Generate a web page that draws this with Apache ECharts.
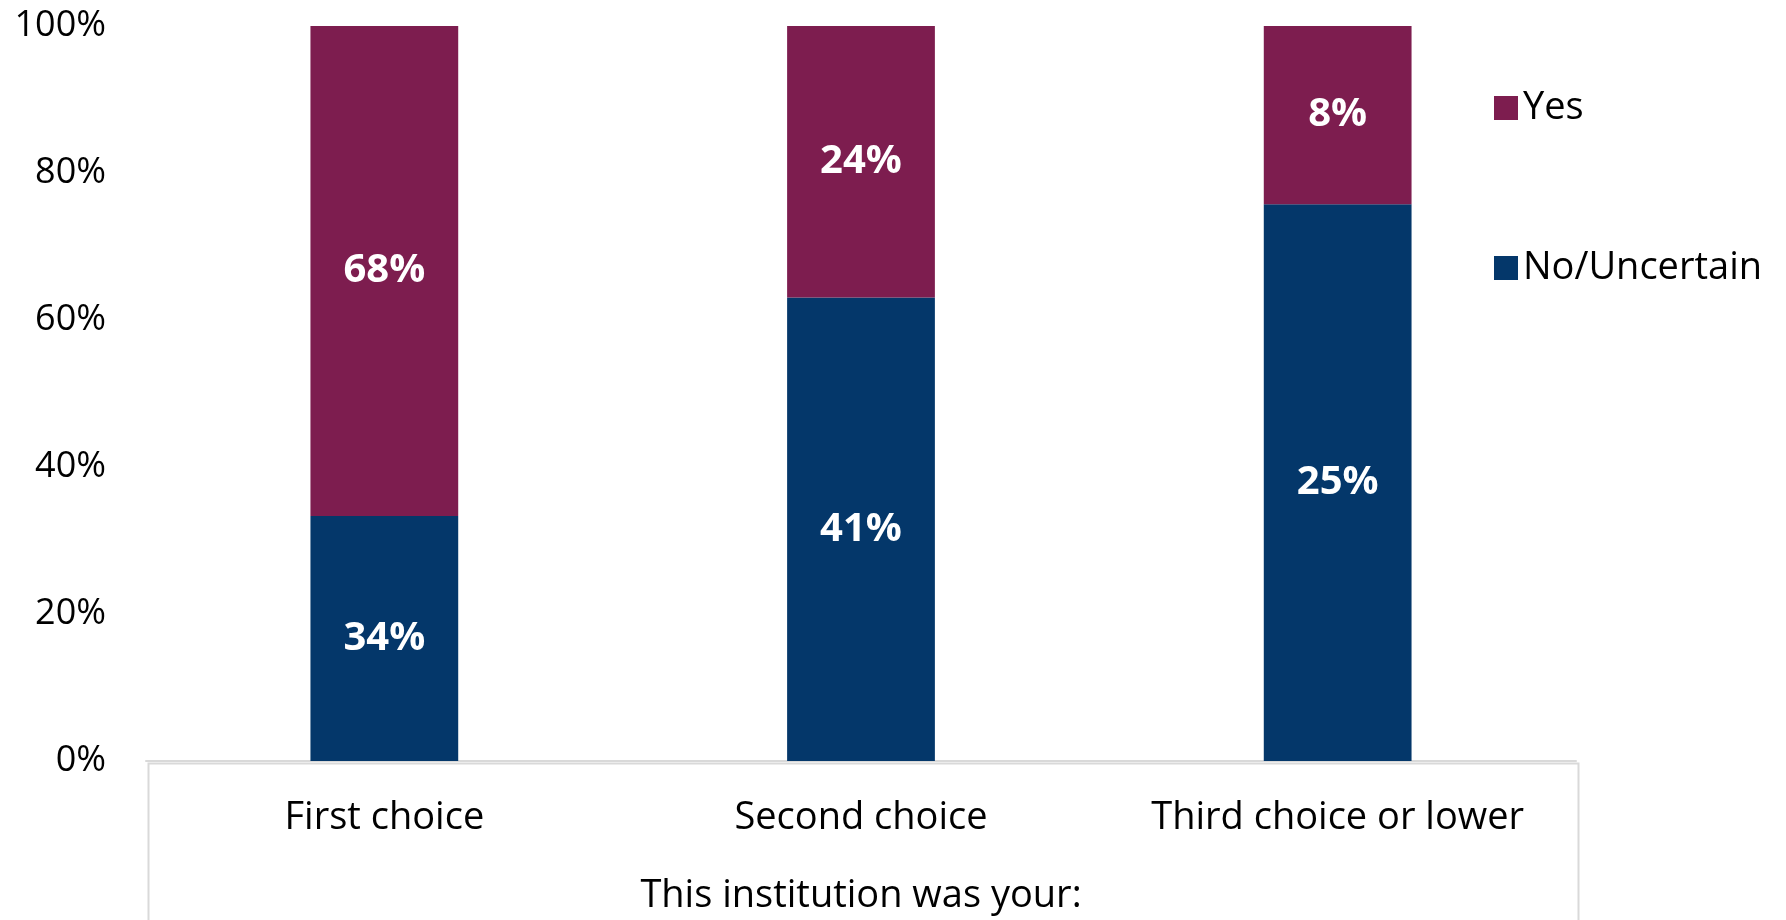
<!DOCTYPE html>
<html>
<head>
<meta charset="utf-8">
<script src="https://cdn.jsdelivr.net/npm/echarts@6/dist/echarts.min.js"></script>
<style>
  html, body { margin: 0; padding: 0; background: #fff; }
  #chart { width: 1786px; height: 920px; }
</style>
</head>
<body>
<div id="chart"></div>
<script>
// categories and raw values (labels show these, bars are 100% stacked)
const categories = ['First choice', 'Second choice', 'Third choice or lower']
const yesValues = [68, 24, 8]
const noValues = [34, 41, 25]
const yTicks = [0, 20, 40, 60, 80, 100]

const fontFamily = '"Open Sans", "Noto Sans", sans-serif'
const yesColor = '#7d1d4f'
const noColor = '#04376a'

// share of each bar, so the stack reaches 100%
const totals = categories.map((c, i) => yesValues[i] + noValues[i])
const noShare = noValues.map((v, i) => ({ value: v / totals[i] * 100, raw: v }))
const yesShare = yesValues.map((v, i) => ({ value: v / totals[i] * 100, raw: v }))

const chart = echarts.init(document.getElementById('chart'))

const barLabel = {
  show: true,
  position: 'inside',
  color: '#fff',
  fontFamily: fontFamily,
  fontWeight: 'bold',
  fontSize: 40,
  formatter: (p) => p.data.raw + '%'
}

chart.setOption({
  animation: false,
  grid: {
    left: 146,
    right: 210,
    top: 26,
    bottom: 159,
    outerBoundsMode: 'none'
  },
  legend: {
    orient: 'vertical',
    left: 1489,
    top: 84,
    itemWidth: 24,
    itemHeight: 24,
    itemGap: 122,
    icon: 'rect',
    data: ['Yes', 'No/Uncertain'],
    textStyle: {
      fontFamily: fontFamily,
      fontSize: 38,
      color: '#000'
    }
  },
  xAxis: {
    type: 'category',
    data: categories,
    name: 'This institution was your:',
    nameLocation: 'middle',
    nameGap: 116,
    nameTextStyle: {
      fontFamily: fontFamily,
      fontSize: 38,
      color: '#000'
    },
    axisLine: { show: true, lineStyle: { color: '#d9d9d9', width: 2 } },
    axisTick: { show: false },
    axisLabel: {
      interval: 0,
      margin: 38,
      fontFamily: fontFamily,
      fontSize: 38,
      color: '#000'
    }
  },
  yAxis: {
    type: 'value',
    min: yTicks[0],
    max: yTicks[yTicks.length - 1],
    interval: 20,
    axisLine: { show: false },
    axisTick: { show: false },
    splitLine: { show: false },
    axisLabel: {
      margin: 40,
      fontFamily: fontFamily,
      fontSize: 36,
      color: '#000',
      formatter: '{value}%'
    }
  },
  graphic: [
    {
      type: 'rect',
      left: 146,
      top: 761,
      shape: { width: 1430, height: 200 },
      style: { fill: 'none', stroke: '#d9d9d9', lineWidth: 2 },
      z: -1
    }
  ],
  series: [
    {
      name: 'No/Uncertain',
      type: 'bar',
      stack: 'total',
      barWidth: '31%',
      itemStyle: { color: noColor },
      label: barLabel,
      data: noShare
    },
    {
      name: 'Yes',
      type: 'bar',
      stack: 'total',
      barWidth: '31%',
      itemStyle: { color: yesColor },
      label: barLabel,
      data: yesShare
    }
  ]
})
</script>
</body>
</html>
